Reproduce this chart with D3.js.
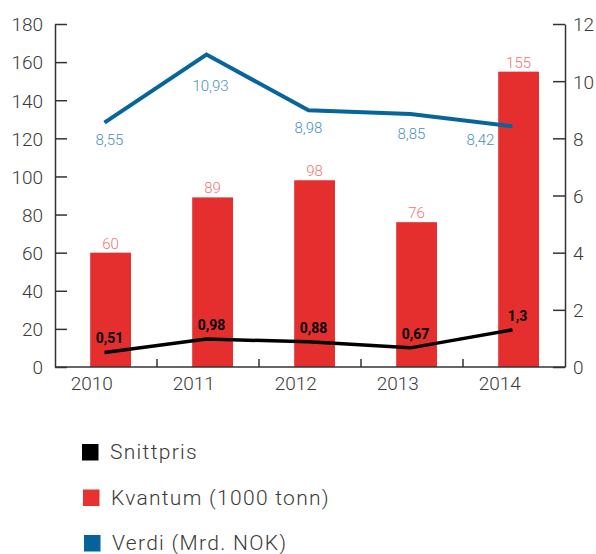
<!DOCTYPE html>
<html>
<head>
<meta charset="utf-8">
<script src="https://cdn.jsdelivr.net/npm/d3@7"></script>
<style>
  body { margin: 0; background: #fff; }
  svg text { font-family: "Roboto", "DejaVu Sans", sans-serif; }
</style>
</head>
<body>
<svg id="chart" width="596" height="554"></svg>
<script>
"use strict";

var years = ["2010", "2011", "2012", "2013", "2014"];
var kvantum = [60, 89, 98, 76, 155];
var verdi = [8.55, 10.93, 8.98, 8.85, 8.42];
var snittpris = [0.51, 0.98, 0.88, 0.67, 1.3];
var leftTicks = [0, 20, 40, 60, 80, 100, 120, 140, 160, 180];
var rightTicks = [0, 2, 4, 6, 8, 10, 12];
var legendNames = ["Snittpris", "Kvantum (1000 tonn)", "Verdi (Mrd. NOK)"];

// label nudges for the blue value labels (layout only)
var verdiLabelNudge = [[5, 22], [4, 36], [0, 23], [1, 25], [-32, 19]];

function drawChart() {
  var fmt = function (v) { return String(v).replace(".", ","); };

  var svg = d3.select("#chart");
  var left = 55, right = 565, top = 24, bottom = 367;

  var x = d3.scaleBand().domain(years).range([left, right]);
  var bw = x.bandwidth();
  var yL = d3.scaleLinear().domain([0, 180]).range([bottom, top]);
  var yR = d3.scaleLinear().domain([0, 12]).range([bottom, top]);

  var axisColor = "#333";
  var textColor = "#3a3a3a";

  // bars
  svg.selectAll("rect.bar")
    .data(kvantum)
    .enter().append("rect")
    .attr("class", "bar")
    .attr("x", function (d, i) { return x(years[i]) + bw * 0.345; })
    .attr("width", bw * 0.4)
    .attr("y", function (d) { return yL(d); })
    .attr("height", function (d) { return bottom - yL(d); })
    .style("fill", "#e52f2f");

  svg.selectAll("text.barLabel")
    .data(kvantum)
    .enter().append("text")
    .attr("class", "barLabel")
    .attr("x", function (d, i) { return x(years[i]) + bw * 0.545; })
    .attr("y", function (d) { return yL(d) - 4; })
    .attr("text-anchor", "middle")
    .style("font-size", "15px")
    .style("font-weight", 300)
    .style("fill", "#f07474")
    .text(function (d) { return d; });

  // axes
  var leftAxis = d3.axisLeft(yL).tickValues(leftTicks)
    .tickSizeInner(-12).tickSizeOuter(0).tickPadding(12);
  var gL = svg.append("g").attr("transform", "translate(" + left + ",0)").call(leftAxis);

  var rightAxis = d3.axisRight(yR).tickValues(rightTicks)
    .tickSizeInner(-12).tickSizeOuter(0).tickPadding(8);
  var gR = svg.append("g").attr("transform", "translate(" + right + ",0)").call(rightAxis);

  [gL, gR].forEach(function (g) {
    g.select(".domain").style("stroke", axisColor).style("stroke-width", 1.5);
    g.selectAll(".tick line").style("stroke", axisColor).style("stroke-width", 1.5);
    g.selectAll(".tick text")
      .style("font-size", "19px")
      .style("font-weight", 300)
      .style("fill", textColor)
      .attr("dy", "0.36em");
  });

  // bottom axis
  svg.append("line")
    .attr("x1", left).attr("x2", right)
    .attr("y1", bottom).attr("y2", bottom)
    .style("stroke", axisColor).style("stroke-width", 1.5);

  svg.selectAll("line.xtick")
    .data(years.slice(1))
    .enter().append("line")
    .attr("class", "xtick")
    .attr("x1", function (d) { return x(d); })
    .attr("x2", function (d) { return x(d); })
    .attr("y1", bottom).attr("y2", bottom - 8)
    .style("stroke", axisColor).style("stroke-width", 1.5);

  svg.selectAll("text.xlabel")
    .data(years)
    .enter().append("text")
    .attr("class", "xlabel")
    .attr("x", function (d) { return x(d) + bw * 0.36; })
    .attr("y", 390)
    .attr("text-anchor", "middle")
    .style("font-size", "19px")
    .style("font-weight", 300)
    .style("fill", textColor)
    .text(function (d) { return d; });

  // lines
  var px = function (d, i) { return x(years[i]) + bw * 0.485; };

  var verdiLine = d3.line().x(px).y(function (d) { return yR(d); });
  svg.append("path")
    .datum(verdi)
    .attr("d", verdiLine)
    .style("fill", "none")
    .style("stroke", "#06659b")
    .style("stroke-width", 4);

  svg.selectAll("text.verdiLabel")
    .data(verdi)
    .enter().append("text")
    .attr("class", "verdiLabel")
    .attr("x", function (d, i) { return px(d, i) + verdiLabelNudge[i][0]; })
    .attr("y", function (d, i) { return yR(d) + verdiLabelNudge[i][1]; })
    .attr("text-anchor", "middle")
    .style("font-size", "15px")
    .style("font-weight", 300)
    .style("fill", "#4a8fc4")
    .text(function (d) { return fmt(d); });

  var prisLine = d3.line().x(px).y(function (d) { return yR(d); });
  svg.append("path")
    .datum(snittpris)
    .attr("d", prisLine)
    .style("fill", "none")
    .style("stroke", "#000")
    .style("stroke-width", 3.5);

  svg.selectAll("text.prisLabel")
    .data(snittpris)
    .enter().append("text")
    .attr("class", "prisLabel")
    .attr("x", function (d, i) { return px(d, i) + 5; })
    .attr("y", function (d) { return yR(d) - 9; })
    .attr("text-anchor", "middle")
    .style("font-size", "14px")
    .style("font-weight", 700)
    .style("fill", "#000")
    .text(function (d) { return fmt(d); });

  // legend
  var legendColors = ["#000", "#e83232", "#05639b"];
  var legend = svg.append("g").attr("transform", "translate(82,444)");
  var items = legend.selectAll("g.item")
    .data(legendNames)
    .enter().append("g")
    .attr("class", "item")
    .attr("transform", function (d, i) { return "translate(" + i + "," + (i * 45.5) + ")"; });
  items.append("rect")
    .attr("width", 16.5).attr("height", 16.5)
    .style("fill", function (d, i) { return legendColors[i]; });
  items.append("text")
    .attr("x", 28)
    .attr("y", 15)
    .style("font-size", "21px")
    .style("font-weight", 300)
    .style("letter-spacing", "1.3px")
    .style("fill", textColor)
    .text(function (d) { return d; });
}

drawChart();
</script>
</body>
</html>
